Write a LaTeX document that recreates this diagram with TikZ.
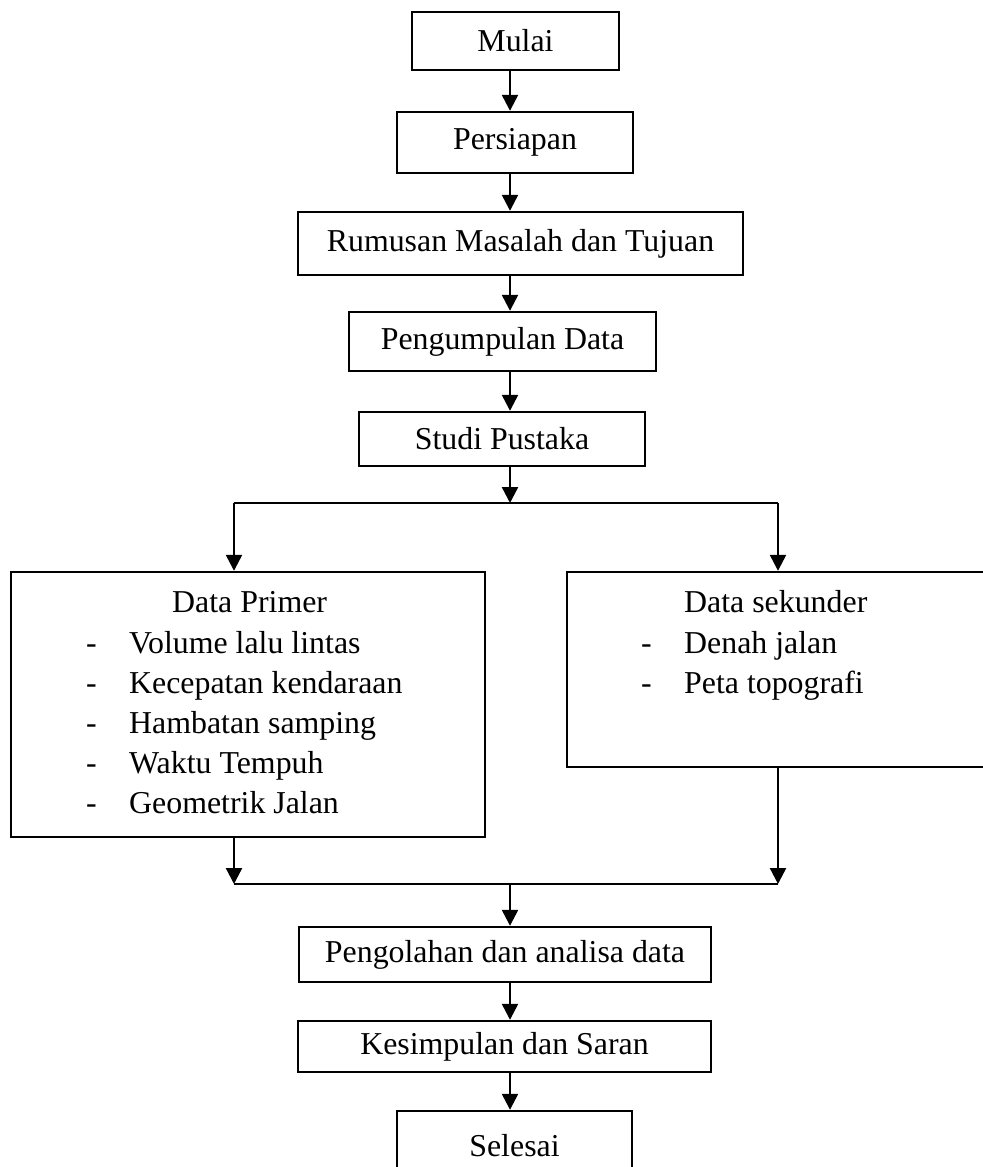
\documentclass[tikz,border=0pt]{standalone}
\usepackage{fontspec}
\setmainfont{Liberation Serif}
\usetikzlibrary{arrows.meta,positioning}
\newdimen\pxu \pxu=0.3766pt
\newcommand{\itemdash}{\makebox[16.2pt][l]{-}}
\tikzset{box node/.style={rectangle,draw,line width=0.9pt,inner sep=0pt,font=\fontsize{12}{14.5}\selectfont},
  list node/.style={anchor=base west,inner sep=0pt,font=\fontsize{12}{14.5}\selectfont},}
\begin{document}
\begin{tikzpicture}[x=0.3766pt,y=-0.3766pt,line width=0.9pt,>={Triangle[width=6pt,length=6pt]}]
    \useasboundingbox (0,0) rectangle (982,1167);
    \node[box node, minimum width={207*\pxu}, minimum height={58*\pxu}] (mulai) at (515.5,41) {Mulai};
    \node[box node, minimum width={236*\pxu}, minimum height={61*\pxu}] (persiapan) at (515,142.5) {Persiapan};
    \node[box node, minimum width={445*\pxu}, minimum height={63*\pxu}] (rumusan) at (520.5,243.5) {Rumusan Masalah dan Tujuan};
    \node[box node, minimum width={307*\pxu}, minimum height={59*\pxu}] (kumpul) at (502.5,341.5) {Pengumpulan Data};
    \node[box node, minimum width={286*\pxu}, minimum height={54*\pxu}] (studi) at (502,439) {Studi Pustaka};
    \node[box node, minimum width={474*\pxu}, minimum height={265*\pxu}] (primer) at (248,704.5) {};
    \node[box node, minimum width={433*\pxu}, minimum height={195*\pxu}] (sekunder) at (783.5,669.5) {};
    \node[box node, minimum width={412*\pxu}, minimum height={55*\pxu}] (olah) at (505,954.5) {Pengolahan dan analisa data};
    \node[box node, minimum width={413*\pxu}, minimum height={51*\pxu}] (simpul) at (504.5,1046.5) {Kesimpulan dan Saran};
    \node[box node, minimum width={235*\pxu}, minimum height={69*\pxu}] (selesai) at (514.5,1145.5) {Selesai};

    % isi kotak data
    \node[list node] (primer0) at (171,612) {Data Primer};
    \node[list node] (primer1) at (85,653) {\itemdash Volume lalu lintas};
    \node[list node] (primer2) at (85,693) {\itemdash Kecepatan kendaraan};
    \node[list node] (primer3) at (85,733) {\itemdash Hambatan samping};
    \node[list node] (primer4) at (85,773) {\itemdash Waktu Tempuh};
    \node[list node] (primer5) at (85,813) {\itemdash Geometrik Jalan};
    \node[list node] (sekunder0) at (683,612) {Data sekunder};
    \node[list node] (sekunder1) at (640,653) {\itemdash Denah jalan};
    \node[list node] (sekunder2) at (640,693) {\itemdash Peta topografi};

    \coordinate (axis) at (510,0);
    \coordinate (sL) at (234,503);
    \coordinate (sR) at (778,503);
    \coordinate (mL) at (234,884);
    \coordinate (mR) at (778,884);

    \draw[->] (mulai.south -| axis) -- (persiapan.north -| axis);
    \draw[->] (persiapan.south -| axis) -- (rumusan.north -| axis);
    \draw[->] (rumusan.south -| axis) -- (kumpul.north -| axis);
    \draw[->] (kumpul.south -| axis) -- (studi.north -| axis);
    \draw[->] (studi.south -| axis) -- (sL -| axis);
    \draw (sL) -- (sR);
    \draw[->] (sL) -- (sL |- primer.north);
    \draw[->] (sR) -- (sR |- sekunder.north);
    \draw[->] (primer.south -| mL) -- (mL);
    \draw[->] (sekunder.south -| mR) -- (mR);
    \draw (mL) -- (mR);
    \draw[->] (mL -| axis) -- (olah.north -| axis);
    \draw[->] (olah.south -| axis) -- (simpul.north -| axis);
    \draw[->] (simpul.south -| axis) -- (selesai.north -| axis);
\end{tikzpicture}
\end{document}
